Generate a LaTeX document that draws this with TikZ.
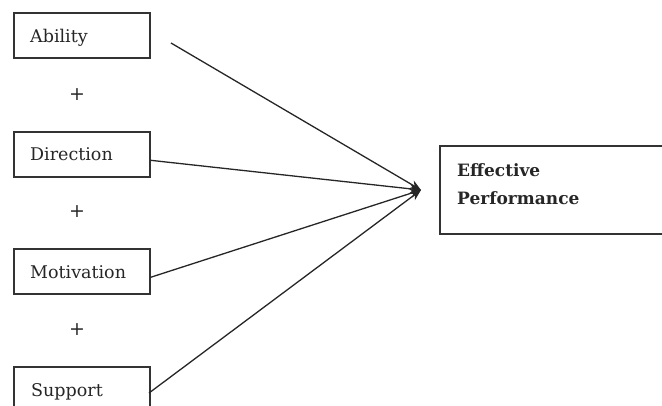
\documentclass[tikz,border=0pt]{standalone}
\usepackage{fontspec}
\setmainfont{DejaVu Serif}
\usetikzlibrary{arrows.meta}
\begin{document}
\begin{tikzpicture}[x=1pt,y=-1pt,
  factor/.style={draw=black!80,line width=1.6pt,minimum width=136pt,minimum height=45pt,inner sep=0pt,anchor=north west},
  lbl/.style={anchor=base west,inner sep=0pt,font=\fontsize{17.5}{20}\selectfont,text=black!85},
  plus/.style={font=\fontsize{19}{19}\selectfont,text=black!85},
  conn/.style={line width=1.3pt,draw=black!85,-{Stealth[length=11pt,width=9pt]}}]
\useasboundingbox (0,0) rectangle (662,405);
\begin{scope}
\clip (0,0) rectangle (662,405);
\node[factor] (ab) at (13,12) {};
\node[factor] (dir) at (13,131) {};
\node[factor] (mot) at (13,248) {};
\node[factor,minimum height=55pt] (sup) at (13,366) {};
\node[lbl] (abt) at (30,42.5) {Ability};
\node[lbl] (dirt) at (30,160.5) {Direction};
\node[lbl] (mott) at (30,278) {Motivation};
\node[lbl] (supt) at (31,396) {Support};
\node[plus] (p1) at (77,95) {+};
\node[plus] (p2) at (77,212) {+};
\node[plus] (p3) at (77,330) {+};
\node[draw=black!80,line width=1.6pt,anchor=north west,minimum width=240pt,minimum height=88pt,inner sep=0pt] (eff) at (439,145) {};
\node[lbl,font=\bfseries\fontsize{17}{20}\selectfont] (efft1) at (457,176.5) {Effective};
\node[lbl,font=\bfseries\fontsize{17}{20}\selectfont] (efft2) at (457,204) {Performance};
\coordinate (tip) at (421,190);
\coordinate (abs) at (171,43);
\draw[conn] (abs) -- (tip);
\draw[conn] ([yshift=-6pt]dir.east) -- (tip);
\draw[conn] ([yshift=-6pt]mot.east) -- (tip);
\draw[conn] (149,393) -- (tip);
\end{scope}
\end{tikzpicture}
\end{document}
